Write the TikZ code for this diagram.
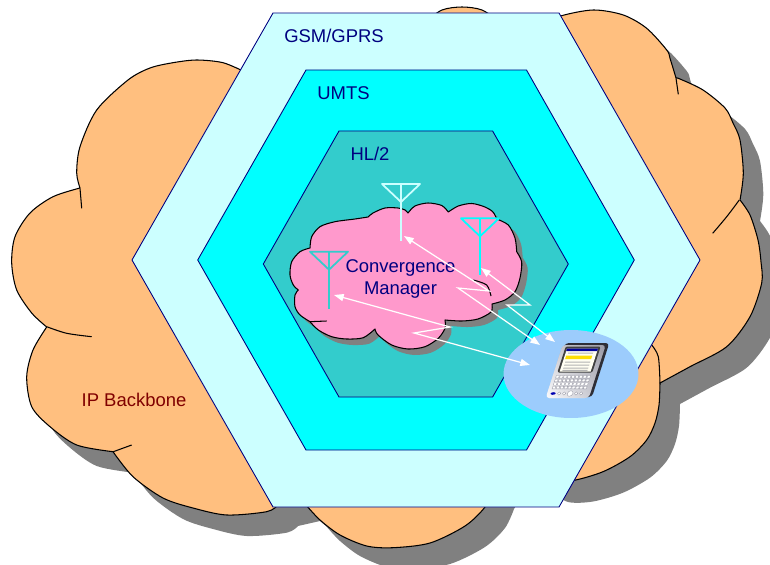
\documentclass[tikz,border=0pt]{standalone}
\usepackage{fontspec}
\setmainfont{Liberation Sans}
\usetikzlibrary{arrows.meta,shapes.geometric}
\definecolor{gsmc}{HTML}{CCFFFF}
\definecolor{umtsc}{HTML}{00FFFF}
\definecolor{hlc}{HTML}{33CCCC}
\definecolor{ipc}{HTML}{FFBF7F}
\definecolor{cmc}{HTML}{FF99CC}
\definecolor{shd}{HTML}{808080}
\definecolor{mobc}{HTML}{9CCCFC}
\definecolor{navy}{HTML}{000080}
\definecolor{ipred}{HTML}{800000}
\definecolor{pdal}{HTML}{F4F4F8}
\definecolor{pdam}{HTML}{9A9AA6}
\definecolor{pdad}{HTML}{2E2E36}
\tikzset{
  hexa/.style={draw=navy, line width=0.5pt, line join=round},
  puff/.style={draw=black, line width=0.6pt, line join=round},
  seam/.style={black, line width=0.6pt},
  mast/.style={line width=1pt, line join=round},
  bolt/.style={white, line width=0.7pt, {Triangle[length=5.5pt,width=4pt]}-{Triangle[length=5.5pt,width=4pt]}},
  lbl/.style={font=\fontsize{10.5}{12.9}\selectfont, inner sep=0pt},
  keyc/.style={fill=white, draw=pdam, line width=0.2pt},
}
\newcommand{\antenna}[3]{% x, y of the top bar centre, colour
  \draw[mast, #3] ({#1-19},#2) -- ({#1+19},#2) -- (#1,{#2+18}) -- cycle;
  \draw[mast, #3] (#1,#2) -- (#1,{#2+57});}
% backbone cloud, pixel coordinates (y down); the straight bits run under the GSM cell
\newcommand{\ipcloud}[1]{\path[#1] (300,60) -- (245,72)
  -- plot[smooth] coordinates {(245,72) (223,62.7) (196.7,60) (173,62.7) (150,68) (128,80) (96.7,110) (80,146.7) (76.7,173) (80,188)}
  -- plot[smooth] coordinates {(80,188) (53,196.7) (30,213) (15,236.7) (11.7,263) (16.7,290) (31.7,313) (46.7,327)}
  -- plot[smooth] coordinates {(46.7,327) (33,350) (26.7,376.7) (31.7,406.7) (50,426.7) (76.7,445) (113,451.7)}
  -- plot[smooth] coordinates {(113,451.7) (133,476.7) (163,498) (193,508) (226.7,515) (266.7,511.7) (278,505)}
  -- (300,500)
  -- plot[smooth] coordinates {(306,505) (320,520) (340,535) (366.7,546) (393,547.7) (430,543) (465,526) (485,507) (494,488)}
  -- (505,470) -- (530,470)
  -- plot[smooth] coordinates {(530,470) (548,481) (573,480.5) (603,471.7) (630,456.7) (646.7,440) (655,423) (659,405) (660,383)}
  -- plot[smooth] coordinates {(660,383) (690,366.7) (726.7,346.7) (750,316.7) (761.7,283) (761,262) (758,240) (750,215) (740,200)}
  -- plot[smooth] coordinates {(740,200) (743.3,173.3) (740,140) (733,123) (725,108) (703,90) (680,79) (676,78)}
  -- plot[smooth] coordinates {(676,78) (670,58.3) (666.7,50) (646.7,28.3) (623.3,15) (593.3,10) (560.7,16) (545,25)}
  -- (500,22)
  -- plot[smooth] coordinates {(500,22) (482,10) (462,7) (442,10) (425,22)}
  -- cycle;}
% convergence manager cloud
\newcommand{\cmcloud}[1]{\path[#1] (310,248)
  -- plot[smooth] coordinates {(310,248) (311.7,236.7) (320,226.7) (335,221.7) (355,219) (368,217)}
  -- plot[smooth] coordinates {(368,217) (373,213) (385,208) (398,208) (405,210) (408,213)}
  -- plot[smooth] coordinates {(408,213) (415,206) (428,203) (441.7,205.5) (448.3,212)}
  -- plot[smooth] coordinates {(448.3,212) (458.3,206) (471.7,203.5) (485,207) (493,212) (496.7,219)}
  -- plot[smooth] coordinates {(496.7,219) (508.3,225) (515,238) (516.7,251.7)}
  -- plot[smooth] coordinates {(516.7,251.7) (521.7,262) (520,278) (515,291.7) (505,300) (492,304)}
  -- plot[smooth] coordinates {(492,304) (491,312) (478,319) (461.7,321) (445,320)}
  -- plot[smooth] coordinates {(445,320) (445,328.3) (438.3,338.3) (425,346.7) (408,349) (391.7,345) (378,335) (375,329)}
  -- plot[smooth] coordinates {(375,329) (363.3,337.7) (346.7,339) (331.7,336.7) (318.3,330) (310,321.7)}
  -- plot[smooth] coordinates {(310,321.7) (300,315) (295,306.7) (295,295) (298.3,290)}
  -- plot[smooth] coordinates {(298.3,290) (293.3,285) (290,275) (291.7,261.7) (300,251.7) (310,248)}
  -- cycle;}

\begin{document}
\begin{tikzpicture}[x=0.02cm, y=-0.02cm]
  \useasboundingbox (0,0) rectangle (770,564);
  \clip (0,0) rectangle (770,564);
  % IP backbone with its shadow
  \ipcloud{fill=shd, shift={(20,21)}}
  \ipcloud{puff, fill=ipc}
  \draw[seam] (80,188.3) -- (81.7,208.3);
  \draw[seam] plot[smooth] coordinates {(46.7,326.7) (66.7,333.3) (91.7,336.7)};
  \draw[seam] (113.3,451.7) -- (131.7,445);
  \draw[seam] plot[smooth] coordinates {(660,383.3) (658.3,356.7) (651.7,345)};
  \draw[seam] plot[smooth] coordinates {(739.3,200) (726.7,216.7) (712.7,233.3)};
  \draw[seam] (676,78.3) -- (678.3,94.3);
  % nested cells
  \draw[hexa, fill=gsmc] (132,260) -- (273,13) -- (559,13) -- (700,260) -- (559,507) -- (273,507) -- cycle;
  \draw[hexa, fill=umtsc] (197.7,260) -- (306,70) -- (526.5,70) -- (634.3,260) -- (526.5,450) -- (306,450) -- cycle;
  \draw[hexa, fill=hlc] (263.3,264) -- (339,131) -- (492.6,131) -- (568.3,264) -- (492.6,397) -- (339,397) -- cycle;
  % convergence manager
  \cmcloud{fill=shd, shift={(6,6)}}
  \cmcloud{puff, fill=cmc}
  \draw[seam] (310,321.7) -- (326.7,321);
  \draw[seam] plot[smooth] coordinates {(473.3,280) (486.7,285) (491,296)};
  % one antenna per access network
  \antenna{401}{184}{gsmc}
  \antenna{480}{218.3}{umtsc}
  \antenna{329}{251.7}{hlc}
  \node[lbl, text=navy, anchor=base] (gsm) at (334,43) {GSM/GPRS};
  \node[lbl, text=navy, anchor=base] (umts) at (343.5,99.3) {UMTS};
  \node[lbl, text=navy, anchor=base] (hl) at (370,160.8) {HL/2};
  \node[lbl, text=navy, align=center] (cm) at (400.5,279) {Convergence\\Manager};
  \node[lbl, text=ipred, anchor=base] (ip) at (134,406.7) {IP Backbone};
  % terminal
  \node[ellipse, fill=mobc, minimum width=2.7cm, minimum height=1.76cm, inner sep=0pt] (mob) at (571,374) {};
  \begin{scope}[shift={(575,372)}, xslant=0.32]
    \fill[pdad, rounded corners=2pt] (-19,-29) rectangle (25,25);
    \shade[top color=pdam, bottom color=pdal, rounded corners=2pt] (-21,-27) rectangle (22,26);
    \shade[left color=white, right color=pdam, opacity=0.6, rounded corners=2pt] (-21,-27) rectangle (22,26);
    \fill[fill=black!75, rounded corners=0.8pt] (-17.5,-25.5) rectangle (17.5,0.5);
    \fill[fill=white!95!yellow] (-15.5,-23.5) rectangle (15.5,-0.5);
    \fill[fill=blue!60!black] (-15.5,-23.5) rectangle (15.5,-21);
    \fill[fill=yellow!80!orange] (-14,-16.5) rectangle (12,-13);
    \foreach \yy in {-19.5,-10.5,-7.5,-4.5,-2.2}
      \fill[fill=gray!60] (-13,\yy) rectangle (12,{\yy+1});
    \foreach \r in {0,...,3}
      \foreach \c in {0,...,8}
        \filldraw[keyc] ({-17.5+\c*3.9},{3.5+\r*3.6}) rectangle +(3,2.6);
    \fill[fill=blue!70!black] (-15,21.5) ellipse[x radius=2.5, y radius=1.3];
    \foreach \bx in {-9,-4,8,13}
      \filldraw[keyc] (\bx,21.5) circle[radius=1.6];
    \filldraw[keyc] (2,21.5) circle[radius=2.8];
  \end{scope}
  % links between the antennas and the terminal
  \coordinate (a1) at (404,236);  \coordinate (k1) at (489,291); \coordinate (j1) at (458,288); \coordinate (t1) at (540,345);
  \coordinate (a2) at (481,268);  \coordinate (k2) at (530,305); \coordinate (j2) at (507,305); \coordinate (t2) at (555,342);
  \coordinate (a3) at (334,295);  \coordinate (k3) at (450,327); \coordinate (j3) at (414,333); \coordinate (t3) at (530,365);
  \draw[bolt] (a1) -- (k1) -- (j1) -- (t1);
  \draw[bolt] (a2) -- (k2) -- (j2) -- (t2);
  \draw[bolt] (a3) -- (k3) -- (j3) -- (t3);
\end{tikzpicture}
\end{document}
